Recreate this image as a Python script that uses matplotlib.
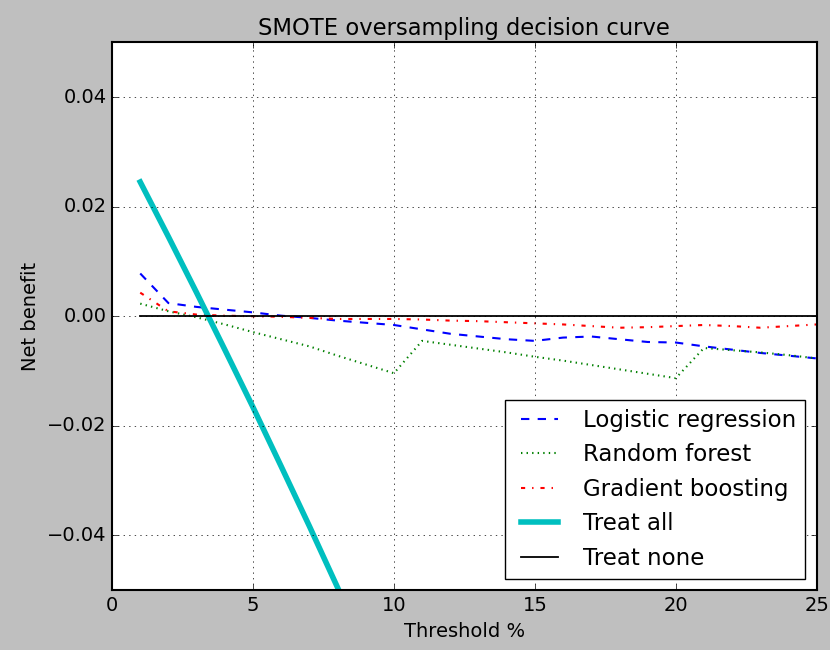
import matplotlib
matplotlib.use("Agg")
import matplotlib.pyplot as plt

plt.style.use("classic")

thresholds = list(range(1, 26))
logistic = [0.0078, 0.0024, 0.0017, 0.0012, 0.0007, 0.0001, -0.0003, -0.0008, -0.0012, -0.0016,
            -0.0024, -0.0032, -0.0037, -0.0042, -0.0045, -0.0039, -0.0037, -0.0042, -0.0047, -0.0048,
            -0.0055, -0.0061, -0.0067, -0.0072, -0.0077]
random_forest = [0.0023, 0.0009, -0.0002, -0.0015, -0.0029, -0.0042, -0.0055, -0.0072, -0.0088, -0.0104,
                 -0.0045, -0.0052, -0.0059, -0.0066, -0.0074, -0.0081, -0.0089, -0.0097, -0.0105, -0.0113,
                 -0.0058, -0.0062, -0.0066, -0.0071, -0.0077]
grad_boost = [0.0043, 0.0009, 0.0003, 0.0001, 0.0000, -0.0001, -0.0003, -0.0005, -0.0005, -0.0005,
              -0.0006, -0.0008, -0.0009, -0.0011, -0.0013, -0.0015, -0.0018, -0.0021, -0.0020, -0.0018,
              -0.0016, -0.0018, -0.0021, -0.0018, -0.0015]
treat_all_x = [1, 2, 3, 4, 5, 6, 7, 8, 9]
treat_all = [0.0245, 0.0145, 0.0043, -0.0061, -0.0166, -0.0274, -0.0383, -0.0495, -0.0610]
treat_none = [0.0] * len(thresholds)

fig = plt.figure(figsize=(8.3, 6.5), dpi=100, facecolor="#bfbfbf")
ax = fig.add_axes([0.135, 0.092, 0.849, 0.843])
for s in ax.spines.values():
    s.set_linewidth(1.5)

ax.plot(thresholds, logistic, "b--", lw=1.5, label="Logistic regression")
ax.plot(thresholds, random_forest, "g:", lw=1.5, label="Random forest")
ax.plot(thresholds, grad_boost, "r-.", lw=1.5, label="Gradient boosting")
ax.plot(treat_all_x, treat_all, color="c", lw=4, label="Treat all")
ax.plot(thresholds, treat_none, "k-", lw=1.3, label="Treat none")

ax.set_xlim(0, 25)
ax.set_ylim(-0.05, 0.05)
ax.set_xticks([0, 5, 10, 15, 20, 25])
ax.set_yticks([-0.04, -0.02, 0.0, 0.02, 0.04])
ax.grid(True)
ax.tick_params(labelsize=14)
ax.set_title("SMOTE oversampling decision curve", fontsize=16.3)
ax.set_xlabel("Threshold %", fontsize=14)
ax.set_ylabel("Net benefit", fontsize=14)
ax.legend(loc="lower right", fontsize=16.5, frameon=True, handlelength=2.2)

fig.savefig("out.png", dpi=100, facecolor=fig.get_facecolor())
